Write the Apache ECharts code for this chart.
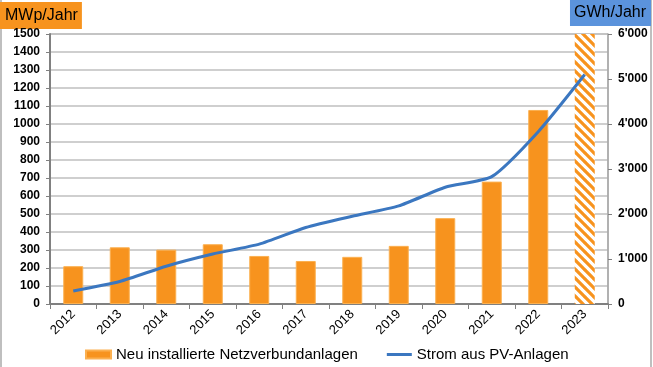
<!DOCTYPE html>
<html>
<head>
<meta charset="utf-8">
<script src="https://cdn.jsdelivr.net/npm/echarts@6/dist/echarts.min.js"></script>
<style>
html,body{margin:0;padding:0;background:#fff;}
#c{width:653px;height:367px;}
</style>
</head>
<body>
<div id="c"></div>
<script>
var categories = ['2012','2013','2014','2015','2016','2017','2018','2019','2020','2021','2022','2023'];
var installed = [210, 315, 302, 332, 267, 239, 262, 323, 477, 680, 1078, 1500];
var strom = [290, 500, 840, 1110, 1330, 1700, 1950, 2180, 2595, 2830, 3830, 5100];
var leftTicks = [0, 1500, 100];
var rightTicks = [0, 6000, 1000];

var orange = '#f7931e';
var blue = '#3b77c0';

function hatch() {
  var n = 9;
  var c = document.createElement('canvas');
  c.width = n; c.height = n;
  var g = c.getContext('2d');
  g.fillStyle = '#fff'; g.fillRect(0, 0, n, n);
  g.strokeStyle = orange; g.lineWidth = 3.2;
  g.beginPath();
  for (var k = -2; k <= 2; k++) {
    g.moveTo(k * n - 1, -1);
    g.lineTo(k * n + n + 1, n + 1);
  }
  g.stroke();
  return c;
}

var barData = installed.map(function (v, i) {
  if (i === installed.length - 1) {
    return { value: v, itemStyle: { color: { image: hatch(), repeat: 'repeat' }, borderWidth: 0 } };
  }
  return v;
});

var chart = echarts.init(document.getElementById('c'));
var fmt = function (v) { return v >= 1000 ? Math.floor(v / 1000) + "'" + String(v % 1000).padStart(3, '0') : String(v); };
chart.setOption({
  animation: false,
  textStyle: { fontFamily: 'Liberation Sans, Arial, sans-serif' },
  grid: { left: 50, right: 45, top: 34, bottom: 63, show: true, borderColor: '#a6a6a6', borderWidth: 1 },
  legend: {
    bottom: 0, left: 80, itemWidth: 25, itemHeight: 8, itemGap: 29,
    textStyle: { fontSize: 15, color: '#000', fontFamily: 'Liberation Sans, Arial, sans-serif' },
    data: [
      { name: 'Neu installierte Netzverbundanlagen', icon: 'rect' },
      { name: 'Strom aus PV-Anlagen', icon: 'path://M0,0 L25,0 L25,3 L0,3 Z' }
    ]
  },
  xAxis: {
    type: 'category', data: categories,
    axisLine: { lineStyle: { color: '#808080', width: 2 } },
    axisTick: { show: true, alignWithLabel: false, length: 5, lineStyle: { color: '#808080' } },
    axisLabel: { rotate: 45, fontSize: 13, color: '#000', margin: 8 }
  },
  yAxis: [{
    type: 'value', min: leftTicks[0], max: leftTicks[1], interval: leftTicks[2],
    axisLine: { show: true, lineStyle: { color: '#808080', width: 2 } },
    axisTick: { show: true, length: 4, lineStyle: { color: '#808080' } },
    splitLine: { lineStyle: { color: '#bfbfbf', width: 1.5 } },
    axisLabel: { fontSize: 12, fontWeight: 'bold', color: '#000', margin: 10, formatter: function (v) { return String(v); } }
  }, {
    type: 'value', min: rightTicks[0], max: rightTicks[1], interval: rightTicks[2],
    position: 'right',
    axisLine: { show: true, lineStyle: { color: '#a6a6a6', width: 1.5 } },
    axisTick: { show: true, length: 4, lineStyle: { color: '#808080' } },
    splitLine: { show: false },
    axisLabel: { fontSize: 12, fontWeight: 'bold', color: '#000', margin: 10, formatter: fmt }
  }],
  series: [{
    name: 'Neu installierte Netzverbundanlagen', type: 'bar', data: barData,
    barWidth: 20, itemStyle: { color: orange, borderColor: '#fbb050', borderWidth: 1 }
  }, {
    name: 'Strom aus PV-Anlagen', type: 'line', yAxisIndex: 1, data: strom,
    symbol: 'none', smooth: 0.2, lineStyle: { color: blue, width: 3 }, itemStyle: { color: blue }
  }],
  graphic: [
    { type: 'rect', shape: { x: 1, y: -5, width: 650, height: 380 }, style: { fill: 'none', stroke: '#bfbfbf', lineWidth: 2 }, silent: true },
    { type: 'text', left: 0, top: 2, style: { text: 'MWp/Jahr', fontSize: 16, fill: '#000', backgroundColor: orange, padding: [6, 4, 5, 5], fontFamily: 'Liberation Sans, Arial, sans-serif' } },
    { type: 'text', right: 2, top: 0, style: { text: 'GWh/Jahr', fontSize: 16, fill: '#000', backgroundColor: '#5b93dc', padding: [5, 5, 5, 4], fontFamily: 'Liberation Sans, Arial, sans-serif' } }
  ]
});
</script>
</body>
</html>
